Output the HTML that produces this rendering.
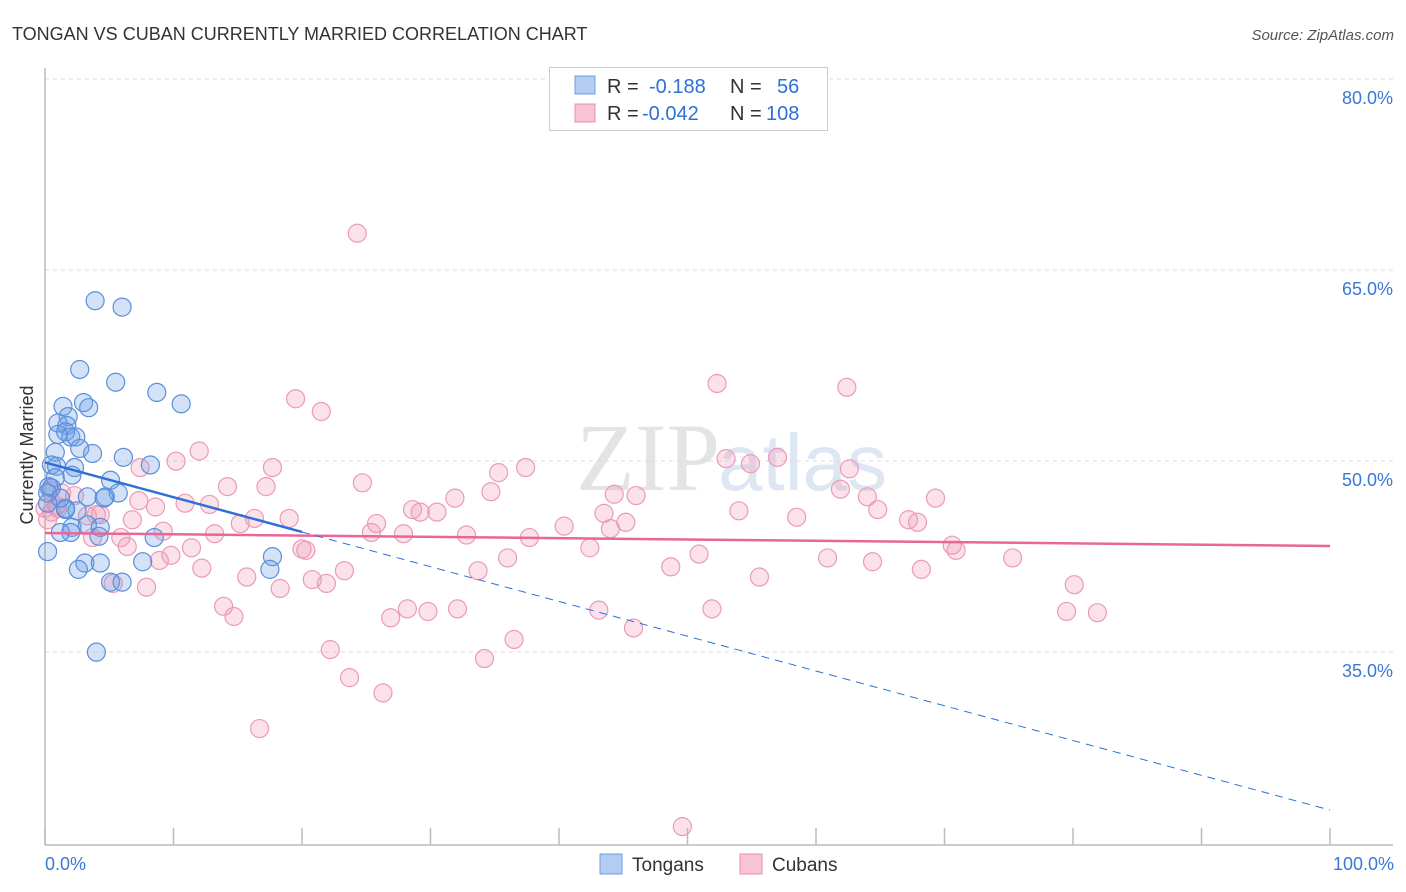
<!DOCTYPE html>
<html><head><meta charset="utf-8"><style>
body{margin:0;background:#fff;font-family:"Liberation Sans",sans-serif;}
#wrap{position:relative;width:1406px;height:892px;overflow:hidden;}
</style></head><body>
<div id="wrap">
<svg id="svg" width="1406" height="892" xmlns="http://www.w3.org/2000/svg">
<text x="12" y="40" font-size="18" fill="#333">TONGAN VS CUBAN CURRENTLY MARRIED CORRELATION CHART</text>
<text x="1394" y="40" font-size="15" fill="#555" font-style="italic" text-anchor="end">Source: ZipAtlas.com</text>
<text x="720" y="490" font-size="96" fill="#e4e4e4" text-anchor="end" font-family="Liberation Serif">ZIP</text>
<text x="718" y="490" font-size="80" fill="#dde6f3">atlas</text>
<text x="33" y="455" font-size="18" fill="#333" text-anchor="middle" transform="rotate(-90 33 455)">Currently Married</text>
<g id="grid"></g><g id="axes"></g><g id="pts"></g><g id="lines"></g>
<g>
<rect x="549.5" y="67.5" width="278" height="63" fill="#fff" stroke="#ccc"/>
<rect x="575" y="76" width="20" height="18" fill="#b3cdf2" stroke="#6c9ee0"/>
<rect x="575" y="104" width="20" height="18" fill="#f8c3d3" stroke="#e890ad"/>
<text x="607" y="93" font-size="20" fill="#333">R = </text><text x="649" y="93" font-size="20" fill="#2f6fd6">-0.188</text>
<text x="730" y="93" font-size="20" fill="#333">N = </text><text x="777" y="93" font-size="20" fill="#2f6fd6">56</text>
<text x="607" y="120" font-size="20" fill="#333">R = </text><text x="642" y="120" font-size="20" fill="#2f6fd6">-0.042</text>
<text x="730" y="120" font-size="20" fill="#333">N = </text><text x="766" y="120" font-size="20" fill="#2f6fd6">108</text>
</g>
<g>
<rect x="600" y="854" width="22" height="20" fill="#b3cdf2" stroke="#6c9ee0"/>
<text x="632" y="871" font-size="19" fill="#333">Tongans</text>
<rect x="740" y="854" width="22" height="20" fill="#f8c3d3" stroke="#e890ad"/>
<text x="772" y="871" font-size="19" fill="#333">Cubans</text>
</g>
</svg>
<script>
const yTicks=[80,65,50,35];
const xTickLabels=["0.0%","100.0%"];
const tonganX=[3.9,6.0,2.7,5.5,8.7,10.6,3.0,1.4,3.4,1.8,1.0,1.7,1.6,2.0,1.0,2.4,2.7,3.7,6.1,8.2,0.8,0.5,0.9,2.3,2.1,0.8,0.3,5.1,4.7,5.7,3.3,4.6,0.5,0.2,1.6,2.5,2.1,3.3,4.3,4.2,2.0,1.2,8.5,7.6,5.1,3.1,2.6,4.3,0.2,17.7,17.5,4.0,6.0,1.6,1.2,0.2];
const tonganY=[64.0,63.5,58.6,57.6,56.8,55.9,56.0,55.7,55.6,54.9,54.4,54.2,53.7,53.3,53.5,53.3,52.4,52.0,51.7,51.1,52.1,51.1,51.0,50.9,50.3,50.1,49.4,49.9,48.6,48.9,48.6,48.5,49.3,48.9,47.7,47.5,46.2,46.4,46.2,45.5,45.8,45.8,45.4,43.5,41.9,43.4,42.9,43.4,44.3,43.9,42.9,36.4,41.9,47.6,48.5,48.1];
const cubanX=[24.3,52.3,62.4,19.5,21.5,12.0,10.2,17.7,35.3,37.4,53.0,54.9,57.0,62.6,24.7,14.2,17.2,34.7,44.3,46.0,31.9,61.9,64.0,69.3,7.3,10.9,12.8,8.6,28.6,29.2,30.5,43.5,54.0,58.5,64.8,67.2,67.9,4.0,3.3,1.0,1.3,2.3,4.3,6.8,16.3,19.0,25.8,15.2,9.2,13.2,25.4,27.9,32.8,37.7,40.4,44.0,45.2,5.9,6.4,11.4,20.0,20.3,8.9,9.8,12.2,15.7,18.3,20.8,21.9,23.3,36.0,33.7,42.4,50.9,55.6,60.9,64.4,68.2,70.6,70.9,75.3,80.1,79.5,81.9,5.3,7.9,13.9,14.7,26.9,28.2,29.8,32.1,43.1,51.9,45.8,36.5,22.2,34.2,23.7,26.3,16.7,49.6,48.7,0.5,0.9,0.0,0.2,7.4,3.7,0.4];
const cubanY=[69.3,57.5,57.2,56.3,55.3,52.2,51.4,50.9,50.5,50.9,51.6,51.2,51.7,50.8,49.7,49.4,49.4,49.0,48.8,48.7,48.5,49.2,48.6,48.5,48.3,48.1,48.0,47.8,47.6,47.4,47.4,47.3,47.5,47.0,47.6,46.8,46.6,47.2,47.1,47.7,48.9,48.7,47.2,46.8,46.9,46.9,46.5,46.5,45.9,45.7,45.8,45.7,45.6,45.4,46.3,46.1,46.6,45.4,44.7,44.6,44.5,44.4,43.6,44.0,43.0,42.3,41.4,42.1,41.8,42.8,43.8,42.8,44.6,44.1,42.3,43.8,43.5,42.9,44.8,44.4,43.8,41.7,39.6,39.5,41.8,41.5,40.0,39.2,39.1,39.8,39.6,39.8,39.7,39.8,38.3,37.4,36.6,35.9,34.4,33.2,30.4,22.7,43.1,47.4,47.9,47.7,46.8,50.9,45.4,49.1];
const tonganTrend=[51.3,24.0];
const cubanTrend=[45.76,44.74];
const NS="http://www.w3.org/2000/svg";
function xS(v){return 45+v*12.85;}
function yS(v){return 97+(80-v)*12.733;}
function mk(tag,attrs,parent){const e=document.createElementNS(NS,tag);for(const k in attrs)e.setAttribute(k,attrs[k]);document.getElementById(parent).appendChild(e);return e;}
yTicks.forEach(t=>{
  const g=mk('line',{x1:45,x2:1393,y1:yS(t)-18,y2:yS(t)-18,stroke:'#ddd','stroke-dasharray':'4,4'},'grid');
  
  
  const l=mk('text',{x:1393,y:yS(t)+7,'font-size':18,fill:'#3a78d4','text-anchor':'end'},'grid');
  l.textContent=t.toFixed(1)+'%';
  
  
});
const ax=mk('line',{x1:45,x2:45,y1:68,y2:845,stroke:'#bbb','stroke-width':1.5},'axes');


const axx=mk('line',{x1:45,x2:1393,y1:845,y2:845,stroke:'#bbb','stroke-width':1.5},'axes');


for(let i=0;i<=10;i++){
  const t=mk('line',{x1:xS(i*10),x2:xS(i*10),y1:828,y2:845,stroke:'#bbb','stroke-width':1.5},'axes');
  
  
}
xTickLabels.forEach((s,i)=>{
  const t=mk('text',{x:i?1394:45,y:870,'font-size':18,fill:'#3a78d4','text-anchor':i?'end':'start'},'axes');
  t.textContent=s;
  
  
});
cubanX.forEach((x,i)=>{
  const c=mk('circle',{cx:xS(x),cy:yS(cubanY[i]),r:9,fill:'rgba(240,150,180,0.28)',stroke:'#eb9ab5','stroke-width':1.2},'pts');
  
  
});
tonganX.forEach((x,i)=>{
  const c=mk('circle',{cx:xS(x),cy:yS(tonganY[i]),r:9,fill:'rgba(110,160,230,0.3)',stroke:'#5a8fdc','stroke-width':1.2},'pts');
  
  
});
function ty(tr,x){return tr[0]+(tr[1]-tr[0])*x/100;}
const ct=mk('line',{x1:xS(0),y1:yS(ty(cubanTrend,0)),x2:xS(100),y2:yS(ty(cubanTrend,100)),stroke:'#e8679a','stroke-width':2.5},'lines');


const bt=mk('line',{x1:xS(0),y1:yS(ty(tonganTrend,0)),x2:xS(20),y2:yS(ty(tonganTrend,20)),stroke:'#2f6fd6','stroke-width':2.5},'lines');


const bd=mk('line',{x1:xS(20),y1:yS(ty(tonganTrend,20)),x2:xS(100),y2:yS(ty(tonganTrend,100)),stroke:'#2f6fd6','stroke-width':1,'stroke-dasharray':'8,6'},'lines');


</script>
</div>
</body></html>
